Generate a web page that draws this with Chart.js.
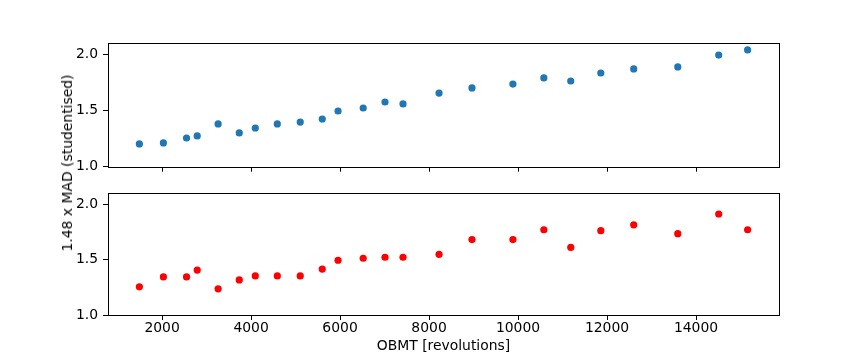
<!DOCTYPE html>
<html>
<head>
<meta charset="utf-8">
<script src="https://cdn.jsdelivr.net/npm/chart.js@4.4.1/dist/chart.umd.min.js"></script>
<style>
  html, body { margin: 0; padding: 0; background: #fff; }
  #wrap { position: relative; width: 864px; height: 360px; overflow: hidden; background: #fff; }
  #c1 { position: absolute; left: 0; top: 0; }
  #c2 { position: absolute; left: 0; top: 180px; }
  #ylab { position: absolute; left: 67px; top: 163px; transform: translate(-50%, -50%) rotate(-90deg);
          font-family: 'DejaVu Sans', sans-serif; font-size: 13.9px; color: #000; white-space: nowrap; }
</style>
</head>
<body>
<div id="wrap">
  <canvas id="c1" width="864" height="180"></canvas>
  <canvas id="c2" width="864" height="180"></canvas>
  <div id="ylab">1.48 x MAD (studentised)</div>
</div>
<script>
// ---- data ----
const obmt = [1490, 2030, 2550, 2790, 3260, 3735, 4095, 4590, 5105, 5600, 5955, 6520,
              7010, 7415, 8225, 8965, 9885, 10580, 11185, 11860, 12600, 13590, 14510, 15160];
const madTop = [1.202, 1.211, 1.255, 1.273, 1.380, 1.300, 1.344, 1.380, 1.397, 1.424, 1.495, 1.522,
                1.575, 1.558, 1.655, 1.700, 1.735, 1.789, 1.762, 1.833, 1.869, 1.887, 1.993, 2.038];
const madBottom = [1.255, 1.344, 1.344, 1.406, 1.237, 1.317, 1.353, 1.353, 1.353, 1.415, 1.495, 1.513,
                   1.522, 1.522, 1.549, 1.682, 1.682, 1.771, 1.611, 1.762, 1.815, 1.735, 1.913, 1.771];
const xTicks = [2000, 4000, 6000, 8000, 10000, 12000, 14000];
const yTicks = [1.0, 1.5, 2.0];
const xLabel = 'OBMT [revolutions]';

const FONT = { family: "'DejaVu Sans', sans-serif", size: 13.9 };

const frame = {
  id: 'frame',
  afterDraw(chart) {
    const a = chart.chartArea, ctx = chart.ctx;
    ctx.save();
    ctx.strokeStyle = '#000';
    ctx.lineWidth = 1;
    ctx.strokeRect(Math.round(a.left) + 0.5, Math.round(a.top) + 0.5,
                   Math.round(a.right - a.left), Math.round(a.bottom - a.top));
    ctx.restore();
  }
};

function makeChart(id, values, color, showX, padTop) {
  const pts = obmt.map((x, i) => ({ x: x, y: values[i] }));
  return new Chart(document.getElementById(id), {
    type: 'scatter',
    data: { datasets: [{ data: pts, backgroundColor: color, borderColor: color,
                         pointRadius: 3.6, pointHoverRadius: 3.6, borderWidth: 0 }] },
    options: {
      responsive: false, animation: false, devicePixelRatio: 1,
      layout: { padding: { top: padTop, right: 85, left: 0, bottom: 0 } },
      plugins: { legend: { display: false }, tooltip: { enabled: false } },
      scales: {
        x: {
          type: 'linear', min: 785, max: 15865,
          afterBuildTicks: s => { s.ticks = xTicks.map(v => ({ value: v })); },
          afterFit: s => { s.height = showX ? 45 : 13; },
          border: { display: false },
          grid: { drawOnChartArea: false, drawTicks: true, tickLength: 5, color: '#000', lineWidth: 1 },
          ticks: { display: showX, font: FONT, color: '#000', padding: 0, maxRotation: 0,
                   callback: v => String(v) },
          title: { display: showX, text: xLabel, font: FONT, color: '#000', padding: { top: 0, bottom: 5 } }
        },
        y: {
          type: 'linear', min: 1.0, max: 2.1,
          afterBuildTicks: s => { s.ticks = yTicks.map(v => ({ value: v })); },
          afterFit: s => { s.width = 108; },
          border: { display: false },
          grid: { drawOnChartArea: false, drawTicks: true, tickLength: 5, color: '#000', lineWidth: 1 },
          ticks: { font: FONT, color: '#000', padding: 5, callback: v => Number(v).toFixed(1) }
        }
      }
    },
    plugins: [frame]
  });
}

makeChart('c1', madTop, '#1f77b4', false, 43);
makeChart('c2', madBottom, '#ff0000', true, 12);
</script>
</body>
</html>
